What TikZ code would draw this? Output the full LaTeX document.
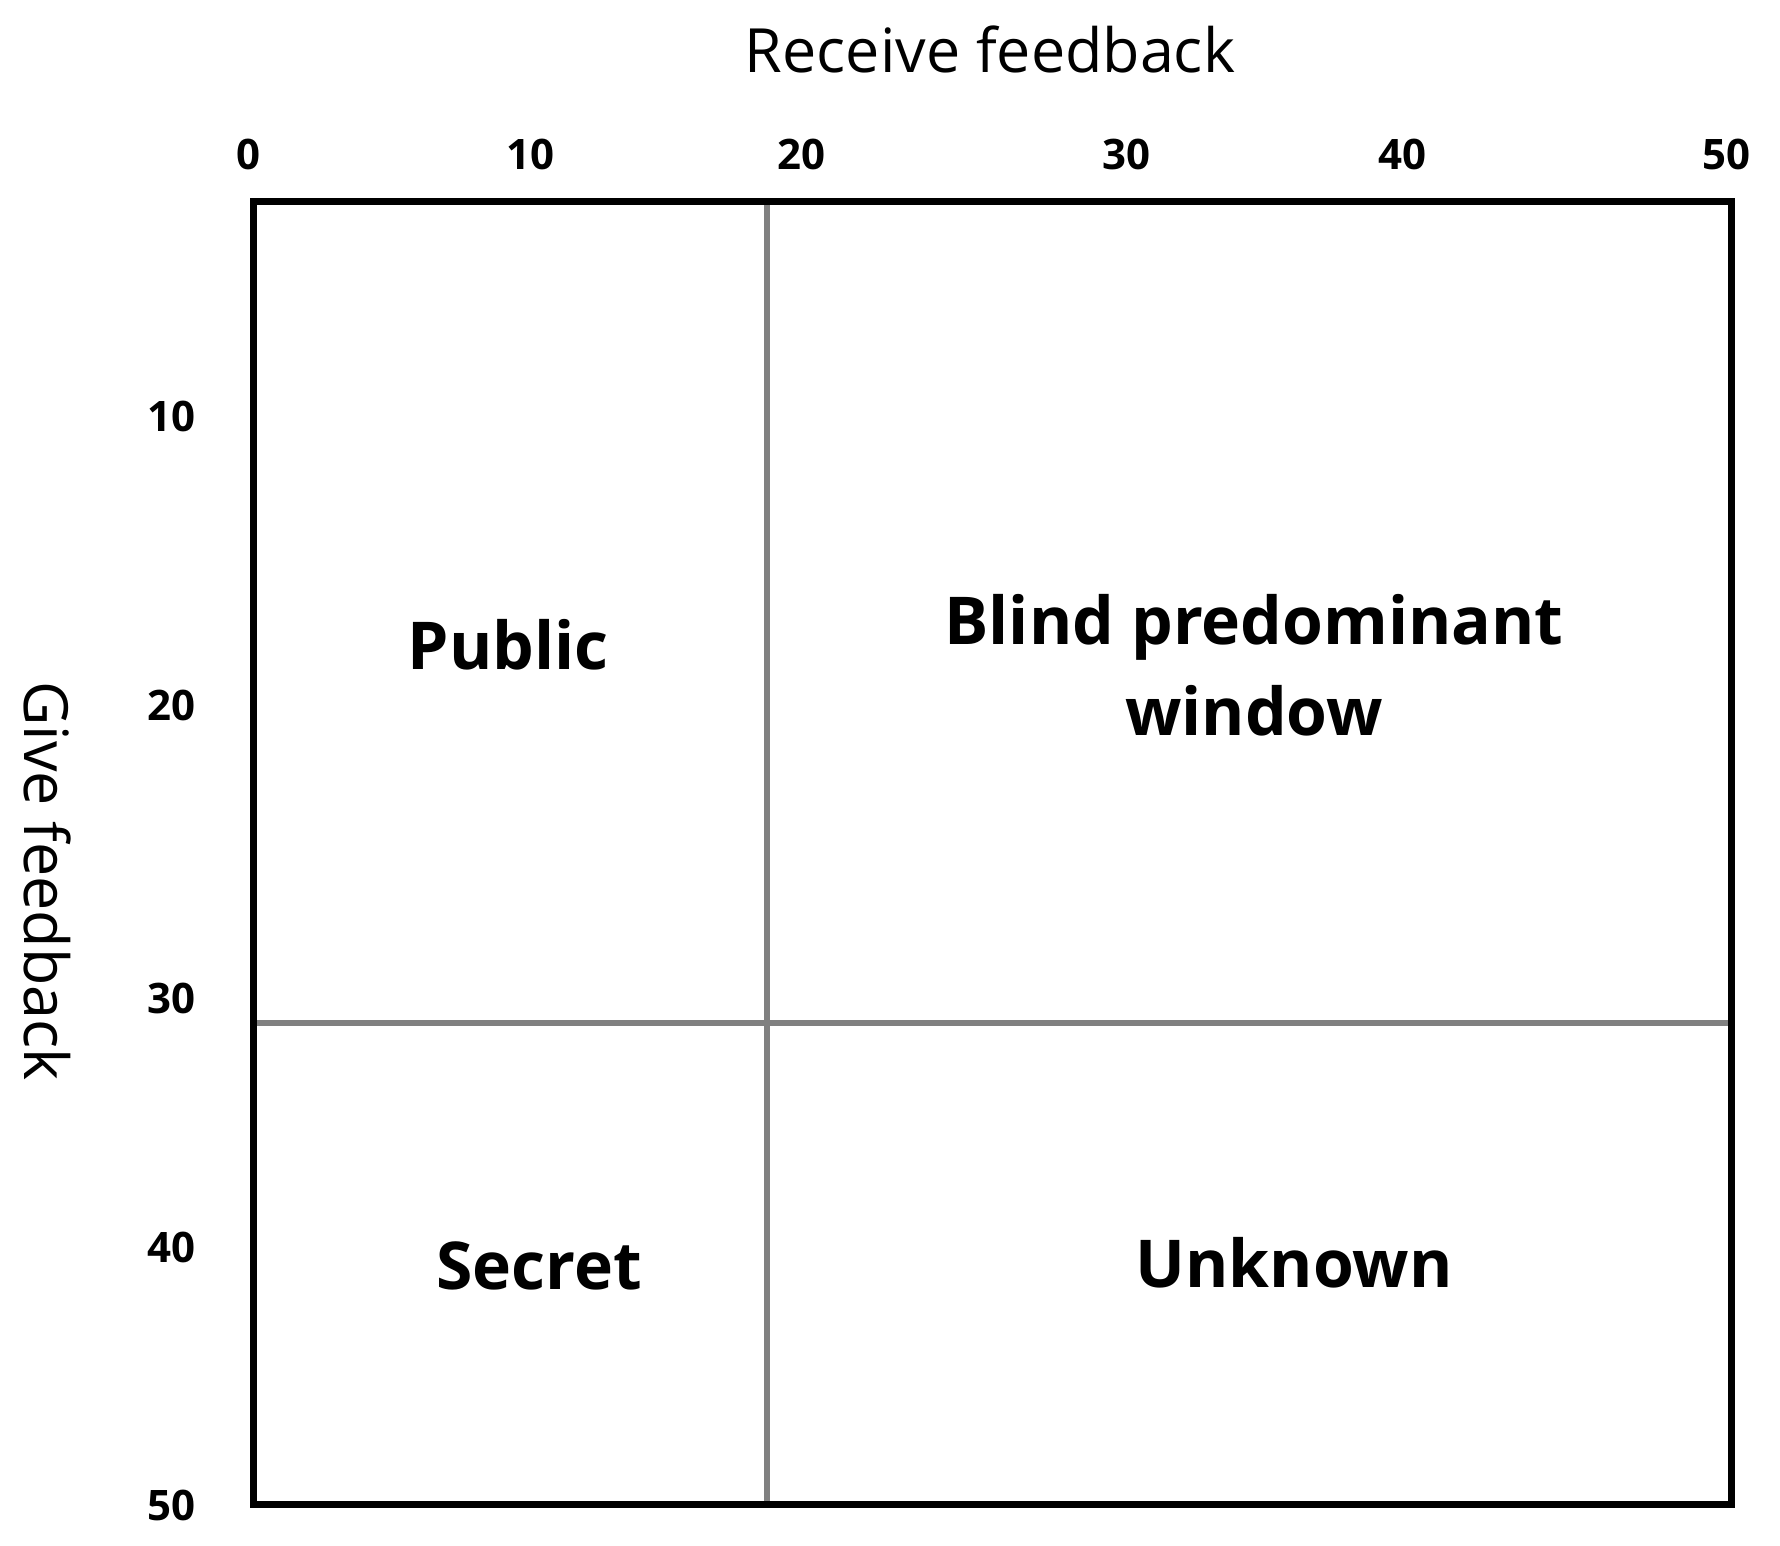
\documentclass[tikz,border=0pt]{standalone}
\usepackage{fontspec}
\setmainfont{Open Sans}
\definecolor{divgray}{RGB}{128,128,128}
\begin{document}
\begin{tikzpicture}[x=1pt,y=-1pt,
  axistitle/.style={inner sep=0pt,font=\fontsize{61}{80}\selectfont,text=black},
  ticklab/.style={inner sep=0pt,font=\fontsize{42}{50}\selectfont\bfseries,anchor=center},
  quadlab/.style={inner sep=0pt,font=\fontsize{66}{91}\selectfont\bfseries,align=center},
  frame/.style={draw=black,line width=7pt},
  divider/.style={draw=divgray,line width=5.5pt}]
\useasboundingbox (0,0) rectangle (1780,1546);
% frame corners
\coordinate (tl) at (253,202);
\coordinate (tr) at (1731,202);
\coordinate (bl) at (253,1504);
\coordinate (br) at (1731,1504);
\coordinate (vt) at (767,202);
\coordinate (vb) at (767,1504);
\coordinate (hl) at (253,1023);
\coordinate (hr) at (1731,1023);
% dividers
\draw[divider] (vt) -- (vb);
\draw[divider] (hl) -- (hr);
% frame
\draw[frame] (tl) -- (tr) -- (br) -- (bl) -- cycle;
% axis titles
\node[axistitle,anchor=base] (recv) at (990,73) {Receive feedback};
\node[axistitle,rotate=-90] (give) at (48,881) {Give feedback};
% top ticks
\node[ticklab] (t0) at (248,154) {0};
\node[ticklab] (t10) at (530,154) {10};
\node[ticklab] (t20) at (801,154) {20};
\node[ticklab] (t30) at (1126,154) {30};
\node[ticklab] (t40) at (1402,154) {40};
\node[ticklab] (t50) at (1726,154) {50};
% left ticks
\node[ticklab] (l10) at (171,416) {10};
\node[ticklab] (l20) at (171,705) {20};
\node[ticklab] (l30) at (171,998) {30};
\node[ticklab] (l40) at (171,1247) {40};
\node[ticklab] (l50) at (171,1505) {50};
% quadrant labels
\node[quadlab,anchor=base] (public) at (508,669) {Public};
\node[quadlab,anchor=base] (blind) at (1254,735) {Blind predominant\\window};
\node[quadlab,anchor=base] (secret) at (539,1289) {Secret};
\node[quadlab,anchor=base] (unknown) at (1294,1287) {Unknown};
\end{tikzpicture}
\end{document}
